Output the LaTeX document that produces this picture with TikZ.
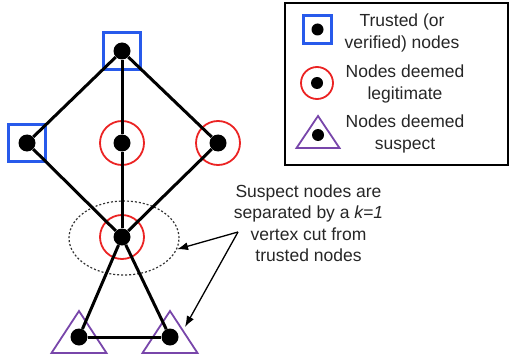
\documentclass[tikz,border=0pt]{standalone}
\usepackage{fontspec}
\setmainfont{Liberation Sans}
\usetikzlibrary{arrows.meta,calc,positioning,shapes.geometric,backgrounds}

\definecolor{trustblue}{RGB}{40,90,235}
\definecolor{legitred}{RGB}{235,35,35}
\definecolor{suspectpurple}{RGB}{120,70,170}

\begin{document}
\begin{tikzpicture}[x=1pt,y=-1pt,>={Latex[length=11pt,width=8pt]},
    vertex/.style={circle,fill=black,inner sep=0pt,minimum size=17pt},
    keydot/.style={circle,fill=black,inner sep=0pt,minimum size=12pt},
    trusted/.style={rectangle,draw=trustblue,line width=2.2pt,inner sep=0pt,minimum size=37pt},
    legit/.style={circle,draw=legitred,line width=1.8pt,inner sep=0pt,minimum size=44pt},
    suspect/.style={draw=suspectpurple,line width=1.8pt},
    link/.style={line width=3pt},
    txt/.style={font=\fontsize{17.5}{21.5}\selectfont,align=center,text=black!85}]

    \useasboundingbox (0,0) rectangle (510,358);

% the graph

    \node[vertex] (top) at (122,51) {};
    \node[vertex] (left) at (27,143) {};
    \node[vertex] (mid) at (122,143) {};
    \node[vertex] (right) at (218,143) {};
    \node[vertex] (cut) at (122,237) {};
    \node[vertex] (bl) at (79,337) {};
    \node[vertex] (br) at (170,337) {};

    \begin{scope}[on background layer]
      \node[trusted] (top-s) at (top) {};
      \node[trusted] (left-s) at (left) {};
      \foreach \v in {mid,right,cut}
        \node[legit] (\v-s) at (\v) {};
      \foreach \v in {bl,br}
        \draw[suspect] ($(\v)+(-27.5,16)$) -- ($(\v)+(0,-26)$) -- ($(\v)+(27.5,16)$) -- cycle;

      \node[draw=black!80,ellipse,line width=1.2pt,dash pattern=on 2pt off 2pt,
            minimum width=110pt,minimum height=74pt] (ring) at (124,238) {};

      \foreach \a/\b in {top/left,top/right,top/mid,mid/cut,left/cut,right/cut,cut/bl,cut/br,bl/br}
        \draw[link] (\a) -- (\b);
    \end{scope}

% the key

    \node[draw,line width=1.5pt,minimum width=223pt,minimum height=162pt] (key) at (396.5,84) {};

    \node[keydot] (k1) at (317.5,29.5) {};
    \node[trusted,minimum size=28pt] (k1-s) at (k1) {};
    \node[keydot] (k2) at (317,83) {};
    \node[legit,minimum size=32pt] (k2-s) at (k2) {};
    \node[keydot] (k3) at (318,135) {};
    \draw[suspect] ($(k3)+(-21.5,13)$) -- ($(k3)+(0,-19)$) -- ($(k3)+(21.5,13)$) -- cycle;

    \node[txt] (k1-t) at (402,33) {Trusted (or\\verified) nodes};
    \node[txt] (k2-t) at (405,84) {Nodes deemed\\legitimate};
    \node[txt] (k3-t) at (405,134) {Nodes deemed\\suspect};

% the note

    \node[txt] (note) at (308.5,223) {Suspect nodes are\\separated by a \textit{k=1}\\vertex cut from\\trusted nodes};
    \coordinate (fork) at (238,232);
    \coordinate (brtip) at ($(br)+(15,-10)$);
    \draw[->,line width=1.3pt] (fork) -- (ring.-12);
    \draw[->,line width=1.3pt] (fork) -- (brtip);

\end{tikzpicture}
\end{document}
